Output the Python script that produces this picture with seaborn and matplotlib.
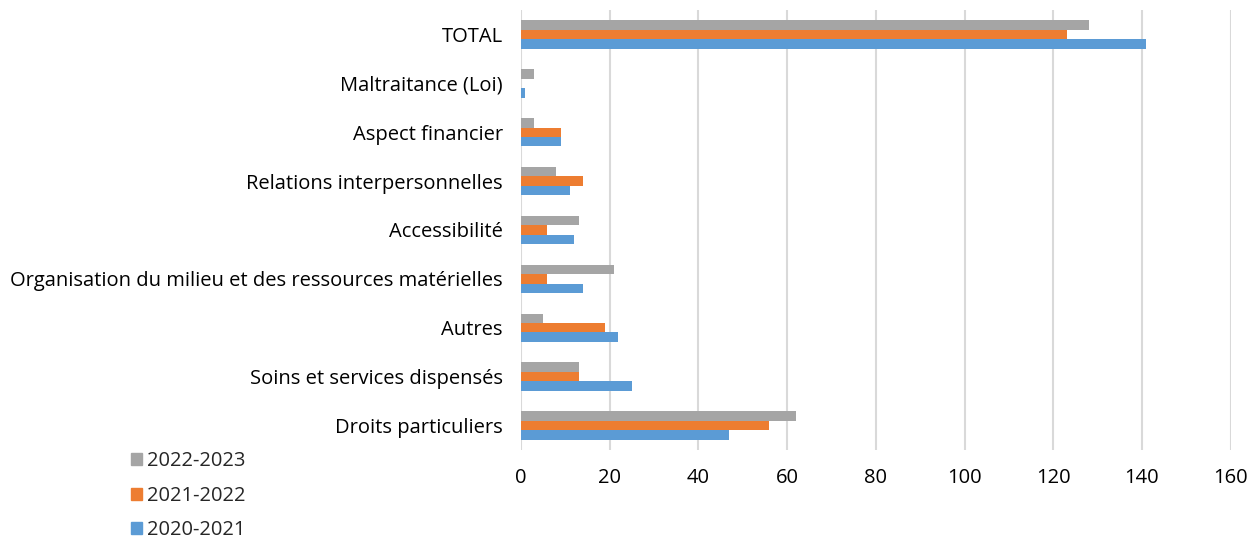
import matplotlib
matplotlib.use("Agg")
import matplotlib.pyplot as plt
import seaborn as sns
import pandas as pd

categories = [
    "TOTAL",
    "Maltraitance (Loi)",
    "Aspect financier",
    "Relations interpersonnelles",
    "Accessibilité",
    "Organisation du milieu et des ressources matérielles",
    "Autres",
    "Soins et services dispensés",
    "Droits particuliers",
]
periods = ["2022-2023", "2021-2022", "2020-2021"]
values_2022_2023 = [128, 3, 3, 8, 13, 21, 5, 13, 62]
values_2021_2022 = [123, 0, 9, 14, 6, 6, 19, 13, 56]
values_2020_2021 = [141, 1, 9, 11, 12, 14, 22, 25, 47]
colors = ["#A5A5A5", "#ED7D31", "#5B9BD5"]
x_ticks = [0, 20, 40, 60, 80, 100, 120, 140, 160]

df = pd.DataFrame({
    "categorie": categories * 3,
    "periode": [periods[0]] * 9 + [periods[1]] * 9 + [periods[2]] * 9,
    "valeur": values_2022_2023 + values_2021_2022 + values_2020_2021,
})

sns.set_theme(style="white")
plt.rcParams["font.family"] = ["Open Sans", "DejaVu Sans"]

fig = plt.figure(figsize=(12.52, 5.38), dpi=100)
ax = fig.add_axes([0.416, 0.164, 0.567, 0.817])

sns.barplot(
    data=df, y="categorie", x="valeur", hue="periode",
    order=categories, hue_order=periods, palette=colors,
    orient="h", width=0.58, ax=ax, legend=False,
    linewidth=0, errorbar=None, saturation=1,
)

ax.set_xlim(0, 160)
ax.set_xticks(x_ticks)
ax.set_xticklabels([str(t) for t in x_ticks])
ax.xaxis.grid(True, color="#D9D9D9", linewidth=1.5)
ax.set_axisbelow(True)
for s in ax.spines.values():
    s.set_visible(False)
ax.tick_params(axis="both", length=0, labelsize=14.5, colors="#000000")
ax.tick_params(axis="x", pad=13)
ax.tick_params(axis="y", pad=13)
ax.set_xlabel("")
ax.set_ylabel("")

handles = [plt.Rectangle((0, 0), 1, 1, color=c) for c in colors]
fig.legend(
    handles, periods, loc="upper left", bbox_to_anchor=(0.098, 0.176),
    frameon=False, fontsize=14.5, handlelength=0.55, handleheight=0.55,
    handletextpad=0.25, labelspacing=0.72, borderaxespad=0,
)

fig.savefig("out.png", dpi=100)
